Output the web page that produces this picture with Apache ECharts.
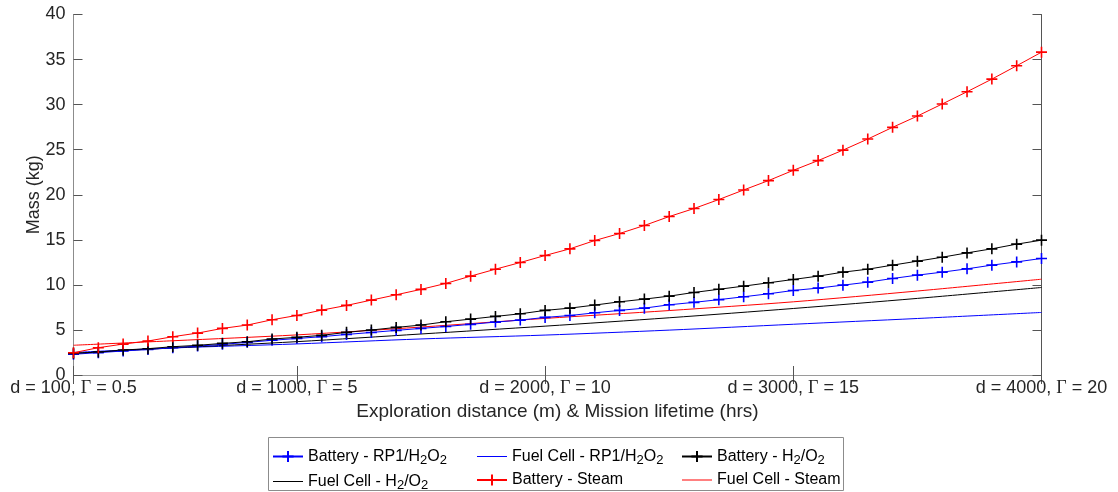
<!DOCTYPE html>
<html>
<head>
<meta charset="utf-8">
<script src="https://cdn.jsdelivr.net/npm/echarts@6/dist/echarts.min.js"></script>
<style>
  html, body { margin: 0; padding: 0; background: #fff; }
  #container { width: 1118px; height: 492px; }
</style>
</head>
<body>
<div id="container"></div>
<script>
let chart = echarts.init(document.getElementById('container'));

// exploration distance (m), one marker every 100 m
var distances = [100, 200, 300, 400, 500, 600, 700, 800, 900, 1000,
    1100, 1200, 1300, 1400, 1500, 1600, 1700, 1800, 1900, 2000,
    2100, 2200, 2300, 2400, 2500, 2600, 2700, 2800, 2900, 3000,
    3100, 3200, 3300, 3400, 3500, 3600, 3700, 3800, 3900, 4000];

var batteryRP1 = [2.30, 2.48, 2.66, 2.84, 3.03, 3.21, 3.40, 3.62, 3.85, 4.05,
    4.25, 4.50, 4.72, 4.95, 5.17, 5.38, 5.62, 5.87, 6.09, 6.39,
    6.60, 6.90, 7.17, 7.42, 7.79, 8.06, 8.36, 8.68, 9.01, 9.38,
    9.64, 9.97, 10.30, 10.71, 11.08, 11.41, 11.78, 12.19, 12.55, 12.93];

var batteryH2O2 = [2.40, 2.55, 2.77, 2.92, 3.14, 3.29, 3.51, 3.69, 3.99, 4.18,
    4.40, 4.73, 4.99, 5.28, 5.54, 5.91, 6.20, 6.50, 6.79, 7.17,
    7.42, 7.76, 8.12, 8.42, 8.75, 9.16, 9.51, 9.86, 10.23, 10.60,
    10.97, 11.41, 11.74, 12.19, 12.63, 13.07, 13.55, 14.00, 14.52, 14.96];

var batterySteam = [2.47, 3.03, 3.43, 3.77, 4.25, 4.65, 5.17, 5.54, 6.13, 6.61,
    7.20, 7.72, 8.31, 8.90, 9.50, 10.16, 10.97, 11.74, 12.48, 13.26,
    14.00, 14.92, 15.70, 16.59, 17.58, 18.47, 19.47, 20.53, 21.57, 22.71,
    23.79, 24.95, 26.18, 27.48, 28.73, 30.07, 31.43, 32.83, 34.31, 35.82];

// fuel cell curves (no markers), read at these distances
var fcDistances = [100, 500, 1000, 1500, 2000, 2500, 3000, 3500, 4000];
var fuelCellRP1 = [2.50, 3.00, 3.45, 4.00, 4.43, 4.98, 5.63, 6.27, 6.94];
var fuelCellH2O2 = [2.40, 3.00, 3.70, 4.55, 5.42, 6.35, 7.38, 8.50, 9.71];
var fuelCellSteam = [3.30, 3.80, 4.45, 5.32, 6.28, 7.15, 8.12, 9.32, 10.63];

var xTicks = [100, 1000, 2000, 3000, 4000];
var gammaTicks = ['0.5', '5', '10', '15', '20'];

var fontMain = 'Helvetica, Arial, "Liberation Sans", sans-serif';
var plus = 'path://M0,5L10,5M5,0L5,10';
var thinLine = 'path://M0,0L30,0L30,1L0,1Z';

function pairs(xs, ys) {
    var out = [];
    for (var i = 0; i < xs.length; i++) { out.push([xs[i], ys[i]]); }
    return out;
}

function batterySeries(name, data, color) {
    return {
        type: 'line', name: name, data: pairs(distances, data),
        symbol: plus, symbolSize: 11, showSymbol: true,
        lineStyle: { color: color, width: 1 },
        itemStyle: { color: color, borderColor: color, borderWidth: 1.6 },
        z: 3
    };
}
function fuelSeries(name, data, color) {
    return {
        type: 'line', name: name, data: pairs(fcDistances, data),
        symbol: 'none', smooth: 0.3,
        lineStyle: { color: color, width: 1 },
        itemStyle: { color: color },
        z: 2
    };
}

var names = [
    'Battery - RP1/H{s|2}O{s|2}', 'Fuel Cell - RP1/H{s|2}O{s|2}', 'Battery - H{s|2}/O{s|2}',
    'Fuel Cell - H{s|2}/O{s|2}', 'Battery - Steam', 'Fuel Cell - Steam'
];

var legendText = {
    fontFamily: fontMain, fontSize: 16, color: '#000', lineHeight: 18,
    rich: { s: { fontFamily: fontMain, fontSize: 13, lineHeight: 18, padding: [8, 0, 0, 0] } }
};
function legendCol(left, first, second) {
    return {
        orient: 'vertical', left: left, top: 446, itemGap: 4, padding: 0,
        itemWidth: 30, itemHeight: 14,
        data: [first, second],
        textStyle: legendText, selectedMode: false
    };
}

var tickStyle = { show: true, inside: true, length: 9, lineStyle: { color: '#555' } };

var option = {
    animation: false,
    grid: { left: 73.5, right: 76.5, top: 14.5, bottom: 117, containLabel: false },
    legend: [
        legendCol(272, names[0], { name: names[3], icon: thinLine }),
        legendCol(476, { name: names[1], icon: thinLine }, names[4]),
        legendCol(681, names[2], { name: names[5], icon: thinLine })
    ],
    graphic: [{
        type: 'rect', shape: { x: 268.5, y: 437.5, width: 575, height: 53 },
        style: { fill: 'none', stroke: '#8c8c8c', lineWidth: 1 }
    }],
    xAxis: [{
        type: 'value', min: 100, max: 4000,
        name: 'Exploration distance (m) & Mission lifetime (hrs)',
        nameLocation: 'middle', nameGap: 27,
        nameTextStyle: { fontFamily: fontMain, fontSize: 19, color: '#262626' },
        axisLine: { show: true, lineStyle: { color: '#7f7f7f' } },
        axisTick: Object.assign({ customValues: xTicks }, tickStyle),
        splitLine: { show: false },
        axisLabel: {
            customValues: xTicks, margin: 4,
            fontFamily: fontMain, fontSize: 18, color: '#262626',
            formatter: function (v) {
                var i = xTicks.indexOf(v);
                return 'd = ' + v + ', {g|\u0393} = ' + gammaTicks[i];
            },
            rich: { g: { fontFamily: '"Liberation Serif", "DejaVu Serif", serif', fontSize: 18, color: '#262626' } }
        }
    }, {
        type: 'value', min: 100, max: 4000, position: 'top',
        axisLine: { show: true, lineStyle: { color: '#9a9a9a' } },
        axisTick: Object.assign({ customValues: xTicks }, tickStyle),
        axisLabel: { show: false },
        splitLine: { show: false }
    }],
    yAxis: [{
        type: 'value', min: 0, max: 40, interval: 5,
        name: 'Mass (kg)', nameLocation: 'middle', nameGap: 30, nameMoveOverlap: false,
        nameTextStyle: { fontFamily: fontMain, fontSize: 18, color: '#262626' },
        axisLine: { show: true, lineStyle: { color: '#8c8c8c' } },
        axisTick: tickStyle,
        splitLine: { show: false },
        axisLabel: { fontFamily: fontMain, fontSize: 18, color: '#262626', margin: 8 }
    }, {
        type: 'value', min: 0, max: 40, interval: 5, position: 'right',
        axisLine: { show: true, lineStyle: { color: '#555' } },
        axisTick: tickStyle,
        axisLabel: { show: false },
        splitLine: { show: false }
    }],
    series: [
        batterySeries(names[0], batteryRP1, '#0000ff'),
        fuelSeries(names[1], fuelCellRP1, '#0000ff'),
        batterySeries(names[2], batteryH2O2, '#000000'),
        fuelSeries(names[3], fuelCellH2O2, '#000000'),
        batterySeries(names[4], batterySteam, '#ff0000'),
        fuelSeries(names[5], fuelCellSteam, '#ff0000')
    ]
};

chart.setOption(option);
</script>
</body>
</html>
